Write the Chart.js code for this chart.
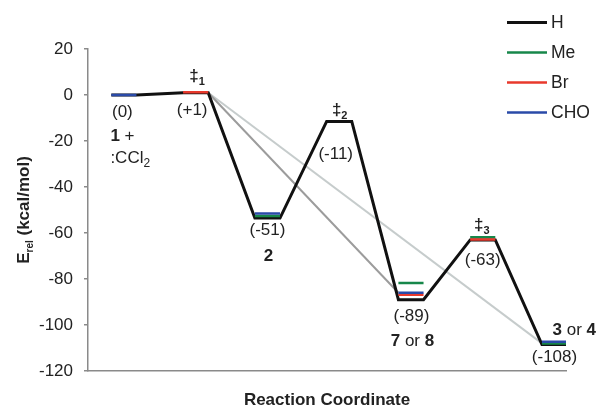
<!DOCTYPE html>
<html>
<head>
<meta charset="utf-8">
<script src="https://cdn.jsdelivr.net/npm/chart.js@4.4.1/dist/chart.umd.min.js"></script>
<style>
  html, body { margin: 0; padding: 0; background: #fff; }
  #wrap { width: 598px; height: 407px; position: relative; }
</style>
</head>
<body>
<div id="wrap"><canvas id="diagrama"></canvas></div>
<script>
// stages along the reaction coordinate (x = 0..6)
const stages = ['1 + :CCl2', '‡1', '2', '‡2', '7 or 8', '‡3', '3 or 4'];

// relative energies in kcal/mol, null = no level for that substituent
const energyH   = [0, 1, -53.5, -11.5, -89, -63, -108.5];
const energyMe  = [null, null, -52.6, null, -81.7, -61.8, -108];
const energyBr  = [null, 1.2, null, null, -86.8, -62.8, null];
const energyCHO = [0, null, -51.5, null, -86, null, -107.3];

// direct paths leaving ‡1 (grey lines)
const bypassStart = [1, 1];      // stage index
const bypassEnd = [4, 6];        // stage index
const bypassFrom = [1, 1];       // energy
const bypassTo = [-86, -108];    // energy

const seriesNames = ['H', 'Me', 'Br', 'CHO'];
const yTicks = [20, 0, -20, -40, -60, -80, -100, -120];

const FONT = '"Liberation Sans", Arial, sans-serif';
const W = 0.175; // half width of a level

function levelPoints(values) {
    const pts = [];
    values.forEach((v, i) => {
        if (v === null) return;
        pts.push({ x: i - W, y: v }, { x: i + W, y: v }, { x: i + W, y: null });
    });
    return pts;
}

function pathPoints(values) {
    const pts = [];
    values.forEach((v, i) => {
        pts.push({ x: i - W, y: v }, { x: i + W, y: v });
    });
    return pts;
}

function bypassPoints(k) {
    return [
        { x: bypassStart[k] + W, y: bypassFrom[k] },
        { x: bypassEnd[k] - W, y: bypassTo[k] }
    ];
}

const colors = { H: '#111111', Me: '#17874a', Br: '#e8392c', CHO: '#2a4aa8' };

// text runs: [text, size, bold, sub]
const labels = [
    { stage: 0, e: 0, dx: -1.5, dy: 21.5, runs: [['(0)', 17]] },
    { stage: 0, e: 0, dx: -13.5, dy: 45.5, align: 'left', runs: [['1', 17, true], [' +', 17]] },
    { stage: 0, e: 0, dx: -13.5, dy: 67.5, align: 'left', runs: [[':CCl', 17], ['2', 12, false, true]] },
    { stage: 1, e: 1, dx: 1.5, dy: -12, runs: [['‡', 17, true], ['1', 11, true, true]] },
    { stage: 1, e: 1, dx: -3.5, dy: 22, runs: [['(+1)', 17]] },
    { stage: 2, e: -51, dx: 0, dy: 23, runs: [['(-51)', 17]] },
    { stage: 2, e: -51, dx: 1, dy: 49, runs: [['2', 17, true]] },
    { stage: 3, e: -11, dx: 0.5, dy: -5, runs: [['‡', 17, true], ['2', 11, true, true]] },
    { stage: 3, e: -11, dx: -3.5, dy: 39, runs: [['(-11)', 17]] },
    { stage: 4, e: -89, dx: 0.5, dy: 21, runs: [['(-89)', 17]] },
    { stage: 4, e: -89, dx: 1.5, dy: 46, runs: [['7', 17, true], [' or ', 17], ['8', 17, true]] },
    { stage: 5, e: -63, dx: -1, dy: -10, runs: [['‡', 17, true], ['3', 11, true, true]] },
    { stage: 5, e: -63, dx: 0, dy: 25.5, runs: [['(-63)', 17]] },
    { stage: 6, e: -108, dx: -2, dy: -8, align: 'left', runs: [['3', 17, true], [' or ', 17], ['4', 17, true]] },
    { stage: 6, e: -108, dx: 0, dy: 19, runs: [['(-108)', 17]] }
];

function fontOf(r) {
    return (r[2] ? 'bold ' : '') + r[1] + 'px ' + FONT;
}

function drawRuns(ctx, runs, x, y, align) {
    let total = 0;
    runs.forEach(r => { ctx.font = fontOf(r); total += ctx.measureText(r[0]).width; });
    let cx = align === 'left' ? x : x - total / 2;
    ctx.textAlign = 'left';
    ctx.textBaseline = 'alphabetic';
    runs.forEach(r => {
        ctx.font = fontOf(r);
        ctx.fillText(r[0], cx, r[3] ? y + 4 : y);
        cx += ctx.measureText(r[0]).width;
    });
}

const annotations = {
    id: 'annotations',
    afterDraw(chart) {
        const ctx = chart.ctx;
        const xs = chart.scales.x, ys = chart.scales.y;
        ctx.save();
        ctx.fillStyle = '#222';
        labels.forEach(l => {
            const x = xs.getPixelForValue(l.stage) + l.dx;
            const y = ys.getPixelForValue(l.e) + l.dy;
            drawRuns(ctx, l.runs, x, y, l.align);
        });

        // legend
        chart.data.datasets.forEach(ds => {
            if (!ds.label) return;
            const i = seriesNames.indexOf(ds.label);
            const y = 22.5 + i * 30;
            ctx.strokeStyle = ds.borderColor;
            ctx.lineWidth = ds.label === 'H' ? 3 : 2.5;
            ctx.beginPath();
            ctx.moveTo(507, y);
            ctx.lineTo(547, y);
            ctx.stroke();
            ctx.fillStyle = '#222';
            ctx.font = '17.5px ' + FONT;
            ctx.textBaseline = 'middle';
            ctx.fillText(ds.label, 551, y + 1);
        });

        // axis titles
        const ca = chart.chartArea;
        ctx.fillStyle = '#222';
        ctx.textBaseline = 'alphabetic';
        ctx.font = 'bold 17px ' + FONT;
        ctx.textAlign = 'center';
        ctx.fillText('Reaction Coordinate', (ca.left + ca.right) / 2 + 0, 405);

        ctx.translate(29, 210);
        ctx.rotate(-Math.PI / 2);
        const runs = [['E', 17, true], ['rel', 10, true, true], [' (kcal/mol)', 17, true]];
        drawRuns(ctx, runs, 0, 0, 'center');
        ctx.restore();
    }
};

const ctx = document.getElementById('diagrama').getContext('2d');
new Chart(ctx, {
    type: 'line',
    data: {
        datasets: [
            { label: 'H', data: pathPoints(energyH), borderColor: colors.H, borderWidth: 3, order: 5 },
            { label: 'Me', data: levelPoints(energyMe), borderColor: colors.Me, borderWidth: 2.5, order: 2 },
            { label: 'Br', data: levelPoints(energyBr), borderColor: colors.Br, borderWidth: 2.5, order: 1 },
            { label: 'CHO', data: levelPoints(energyCHO), borderColor: colors.CHO, borderWidth: 2.5, order: 0 },
            { data: bypassPoints(0), borderColor: '#9c9c9c', borderWidth: 2, order: 6 },
            { data: bypassPoints(1), borderColor: '#c6cccc', borderWidth: 2, order: 7 }
        ]
    },
    options: {
        responsive: true,
        maintainAspectRatio: false,
        animation: false,
        spanGaps: false,
        elements: {
            point: { radius: 0, hoverRadius: 0 },
            line: { tension: 0, fill: false, borderJoinStyle: 'miter' }
        },
        layout: { padding: { top: 49, right: 32, bottom: 0, left: 0 } },
        plugins: { legend: { display: false }, tooltip: { enabled: false } },
        scales: {
            x: {
                type: 'linear',
                min: -0.5,
                max: 6.16,
                grid: { display: false },
                border: { display: true, color: '#8a8a8a', width: 1.5 },
                ticks: { display: false },
                afterFit: s => { s.height = 36; }
            },
            y: {
                min: -120,
                max: 20,
                grid: { drawOnChartArea: false, drawTicks: true, tickLength: 4, color: '#8a8a8a', lineWidth: 1.5 },
                border: { display: true, color: '#8a8a8a', width: 1.5 },
                ticks: {
                    stepSize: 10,
                    padding: 11,
                    color: '#222',
                    font: { family: FONT, size: 17 },
                    callback: v => yTicks.includes(v) ? String(v) : ''
                },
                afterFit: s => { s.width = 88; }
            }
        }
    },
    plugins: [annotations]
});
</script>
</body>
</html>
